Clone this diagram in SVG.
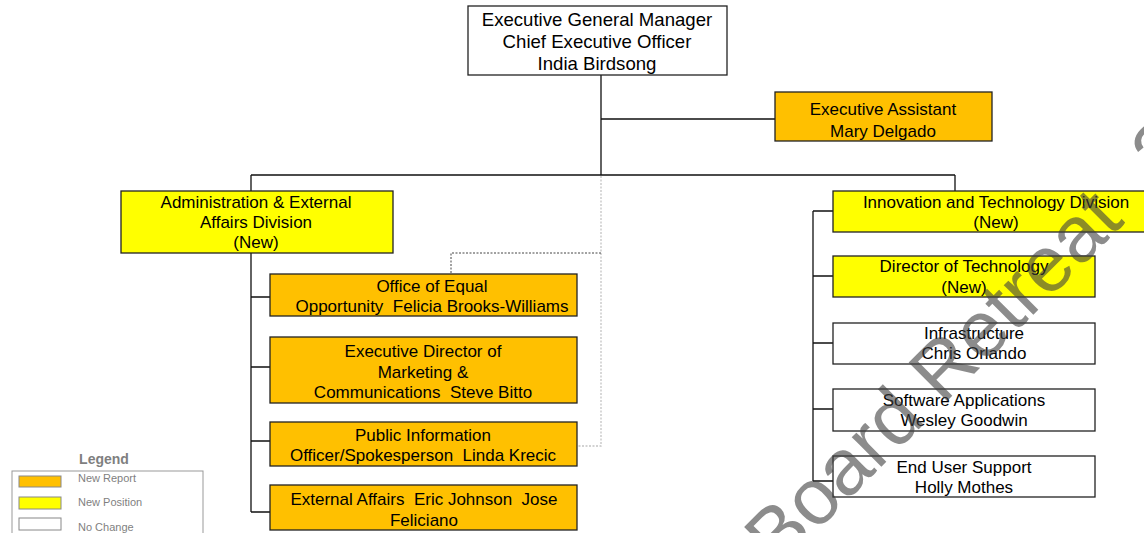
<svg xmlns="http://www.w3.org/2000/svg" width="1144" height="533" viewBox="0 0 1144 533">
<style>
text{font-family:"Liberation Sans",Arial,sans-serif;fill:#000;white-space:pre}
.t{font-size:17px;text-anchor:middle}
.ceo{font-size:18.6px;text-anchor:middle}
.box{stroke:#222;stroke-width:1.3}
.or{fill:#FFC000}
.ye{fill:#FFFF00}
.wh{fill:#FFFFFF}
.ln{stroke:#111;stroke-width:1.3;fill:none}
.dot{stroke:#c4c4c4;stroke-width:1.3;fill:none;stroke-dasharray:2 1.5}
.dash{stroke:#444;stroke-width:1;fill:none;stroke-dasharray:2 1.5}
.lg{font-size:11px;fill:#7f7f7f}
.sw{stroke:#888;stroke-width:1}
</style>
<rect width="1144" height="533" fill="#fff"/>
<g id="connectors">
<path class="ln" d="M601 75V175M601 119H775M251 175H955M251 175V191M955 175V191"/>
<path class="ln" d="M251 253V512M251 297H270M251 367H270M251 441H270M251 512H270"/>
<path class="ln" d="M813 211V481M813 211H833M813 276H833M813 343H833M813 409H833M813 481H833"/>
<path class="dot" d="M601 176V446H577"/>
<path class="dash" d="M451 273V253H601"/>
</g>
<g id="ceo">
<rect class="box wh" x="468" y="6" width="259" height="69"/>
<text class="ceo" x="597" y="26">Executive General Manager</text>
<text class="ceo" x="597" y="48">Chief Executive Officer</text>
<text class="ceo" x="597" y="70">India Birdsong</text>
</g>
<g id="exec-assistant">
<rect class="box or" x="775" y="92" width="217" height="49"/>
<text class="t" x="883" y="115">Executive Assistant</text>
<text class="t" x="883" y="137">Mary Delgado</text>
</g>
<g id="admin">
<rect class="box ye" x="121" y="191" width="272" height="62"/>
<text class="t" x="256" y="208">Administration &amp; External</text>
<text class="t" x="256" y="228">Affairs Division</text>
<text class="t" x="256" y="248">(New)</text>
</g>
<g id="oeo">
<rect class="box or" x="270" y="274" width="307" height="42"/>
<text class="t" x="432" y="292">Office of Equal</text>
<text class="t" x="432" y="312">Opportunity  Felicia Brooks-Williams</text>
</g>
<g id="marketing">
<rect class="box or" x="270" y="337" width="307" height="66"/>
<text class="t" x="423" y="357">Executive Director of</text>
<text class="t" x="423" y="378">Marketing &amp;</text>
<text class="t" x="423" y="398">Communications  Steve Bitto</text>
</g>
<g id="pio">
<rect class="box or" x="270" y="422" width="307" height="44"/>
<text class="t" x="423" y="441">Public Information</text>
<text class="t" x="423" y="461">Officer/Spokesperson  Linda Krecic</text>
</g>
<g id="external">
<rect class="box or" x="270" y="485" width="307" height="45"/>
<text class="t" x="424" y="505">External Affairs  Eric Johnson  Jose</text>
<text class="t" x="424" y="526">Feliciano</text>
</g>
<g id="itd">
<rect class="box ye" x="833" y="191" width="326" height="41"/>
<text class="t" x="996" y="208">Innovation and Technology Division</text>
<text class="t" x="996" y="228">(New)</text>
</g>
<g id="dot">
<rect class="box ye" x="833" y="256" width="262" height="41"/>
<text class="t" x="964" y="272">Director of Technology</text>
<text class="t" x="964" y="293">(New)</text>
</g>
<g id="infra">
<rect class="box wh" x="833" y="323" width="262" height="41"/>
<text class="t" x="974" y="339">Infrastructure</text>
<text class="t" x="974" y="359">Chris Orlando</text>
</g>
<g id="software">
<rect class="box wh" x="833" y="389" width="262" height="42"/>
<text class="t" x="964" y="406">Software Applications</text>
<text class="t" x="964" y="426">Wesley Goodwin</text>
</g>
<g id="eus">
<rect class="box wh" x="833" y="456" width="262" height="41"/>
<text class="t" x="964" y="473">End User Support</text>
<text class="t" x="964" y="493">Holly Mothes</text>
</g>
<g id="legend">
<text x="104" y="464" style="font-size:14px;font-weight:bold;fill:#7f7f7f;text-anchor:middle">Legend</text>
<rect x="12" y="471" width="191" height="70" fill="#fff" stroke="#999" stroke-width="1"/>
<rect class="sw or" x="19" y="476" width="42" height="11"/>
<rect class="sw ye" x="19" y="497" width="42" height="12"/>
<rect class="sw wh" x="19" y="518" width="42" height="12"/>
<text class="lg" x="78" y="482">New Report</text>
<text class="lg" x="78" y="506">New Position</text>
<text class="lg" x="78" y="531">No Change</text>
</g>
<g id="watermark">
<text transform="translate(778,570) rotate(-45)" style="font-size:79px;fill:#404040;opacity:0.6">Board Retreat<tspan dx="54">2</tspan></text>
</g>
</svg>
